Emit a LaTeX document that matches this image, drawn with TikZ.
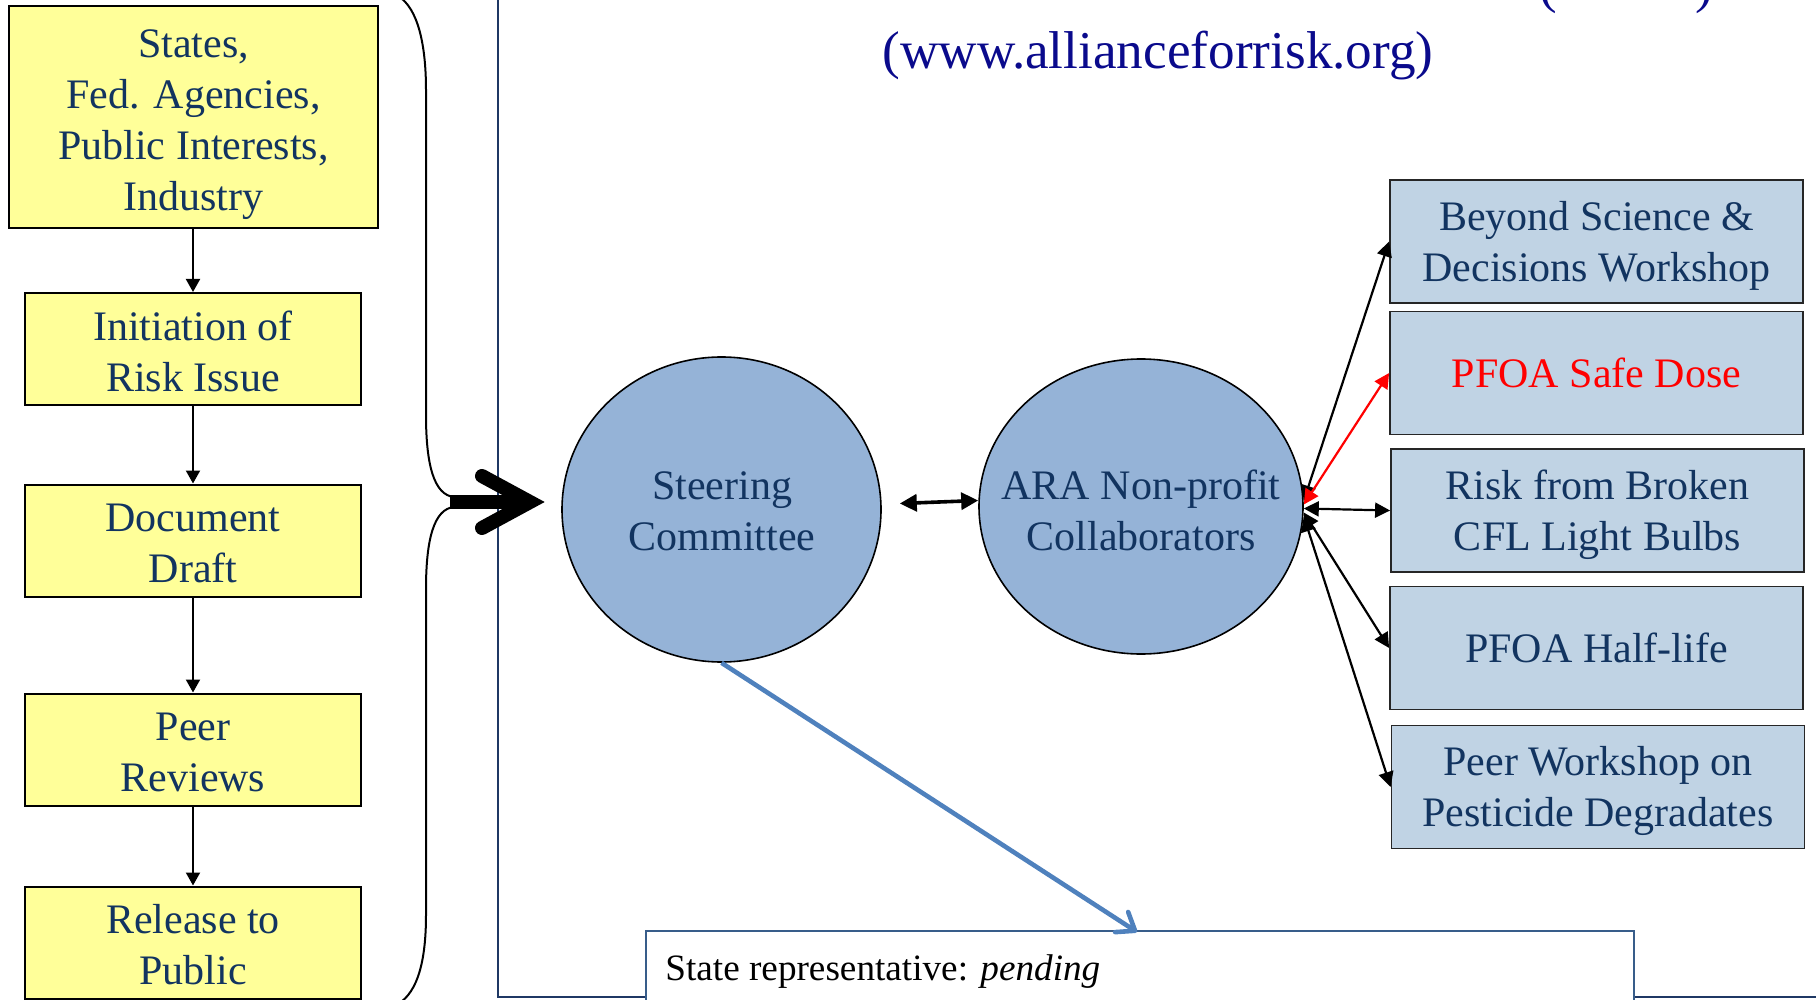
\documentclass[tikz,border=0pt]{standalone}
\usepackage{fontspec}
\setmainfont{Liberation Serif}
\usetikzlibrary{arrows.meta,shapes.geometric}
\definecolor{navytxt}{RGB}{18,52,96}
\definecolor{lyellow}{RGB}{255,255,153}
\definecolor{rblue}{RGB}{192,211,228}
\definecolor{ovalblue}{RGB}{149,179,215}
\definecolor{titleblue}{RGB}{10,10,140}
\definecolor{framec}{RGB}{31,56,100}
\definecolor{arrowblue}{RGB}{79,129,189}
\definecolor{boxedge}{RGB}{56,93,138}
\newcommand\tstr{\rule{0pt}{19pt}}
\begin{document}
\begin{tikzpicture}[x=0.5pt,y=-0.5pt,
  txt/.style={font=\fontsize{21}{25.5}\selectfont},
  lbox/.style={txt, draw=black, line width=1pt, fill=lyellow, text=navytxt, align=center,
    inner sep=0pt, minimum width=168pt, minimum height=56pt},
  rbox/.style={txt, draw=black!85, line width=0.9pt, fill=rblue, text=navytxt, align=center,
    inner sep=0pt, minimum width=206.5pt, minimum height=61.5pt},
  oval/.style={ellipse, draw=black, line width=0.8pt, fill=ovalblue, inner sep=0pt},
  ovaltext/.style={txt, text=navytxt, align=center, inner sep=0pt},
  flow/.style={draw=black, line width=1pt, -{Triangle[length=6.5pt,width=7pt]}},
  conn/.style={draw=black, line width=1.1pt, {Triangle[length=7.5pt,width=7.5pt]}-{Triangle[length=7.5pt,width=7.5pt]}},
]
\useasboundingbox (0,0) rectangle (1816,1000);

% frame
\draw[framec, line width=1pt] (498,-10) -- (498,997) -- (1830,997);

% title
\node[font=\fontsize{26.6}{30}\selectfont, text=titleblue] (url) at (1158,55.5) {(www.allianceforrisk.org)};
\node[font=\fontsize{26.4}{30}\selectfont, text=titleblue, anchor=base] (lp) at (1548,3) {(};
\node[font=\fontsize{26.4}{30}\selectfont, text=titleblue, anchor=base] (rp) at (1704,3) {)};

% left flow
\node[lbox, minimum width=184.5pt, minimum height=111pt] (l1) at (193.5,117) {\rule{0pt}{22pt}States,\\Fed. Agencies,\\Public Interests,\\Industry};
\node[lbox] (l2) at (193,349) {\rule{0pt}{17pt}Initiation of\\Risk Issue};
\node[lbox] (l3) at (193,540.5) {\rule{0pt}{17pt}Document\\Draft};
\node[lbox] (l4) at (193,749.5) {\rule{0pt}{17pt}Peer\\Reviews};
\node[lbox] (l5) at (193,942.5) {\rule{0pt}{17pt}Release to\\Public};
\draw[flow] (l1.south -| l2) -- (l2.north);
\draw[flow] (l2) -- (l3);
\draw[flow] (l3) -- (l4);
\draw[flow] (l4) -- (l5);

% brace
\coordinate (tip) at (450,502);
\draw[black, line width=1pt] (398,-4) .. controls (418,8) and (426,45) .. (426,90)
  -- (426,415) .. controls (426,465) and (434,495) .. (454,497);
\draw[black, line width=1pt] (454,507) .. controls (434,509) and (426,539) .. (426,589)
  -- (426,915) .. controls (426,960) and (418,992) .. (398,1004);

% ovals
\node[oval, minimum width=159.5pt, minimum height=152.5pt] (steer) at (721.5,509.5) {};
\node[ovaltext] (steert) at (722,511.5) {Steering\\Committee};
\node[oval, minimum width=162pt, minimum height=147.5pt] (ara) at (1141,506.5) {};
\node[ovaltext] (arat) at (1141,510) {ARA Non-profit\\Collaborators};

% big arrow from brace
\coordinate (hv) at (530,502);
\draw[black, line width=7pt] (tip) -- (hv);
\draw[black, line width=7pt, line cap=round, line join=miter] (hv) ++(-48,-26) -- (hv) -- ++(-48,26);

\draw[black, line width=1.8pt, {Triangle[length=8.5pt,width=8.5pt]}-{Triangle[length=8.5pt,width=8.5pt]}]
  ([xshift=9pt,yshift=3pt]steer.east) -- ([yshift=3pt]ara.west);

% right boxes
\node[rbox] (r1) at (1596.5,241.5) {\tstr Beyond Science \&\\Decisions Workshop};
\node[rbox, text=red] (r2) at (1596.5,373) {PFOA Safe Dose};
\node[rbox] (r3) at (1597.5,510.5) {\tstr Risk from Broken\\CFL Light Bulbs};
\node[rbox] (r4) at (1596.5,648) {PFOA Half-life};
\node[rbox] (r5) at (1598,787) {\tstr Peer Workshop on\\Pesticide Degradates};

\coordinate (ae) at ([yshift=-1pt]ara.east);
\draw[conn] ([yshift=4pt]ae) -- (r1.west);
\draw[conn, draw=red, fill=red] ([yshift=2pt]ae) -- (r2.west);
\draw[conn] (ae) -- (r3.west);
\draw[conn] ([yshift=-2pt]ae) -- (r4.west);
\draw[conn] ([yshift=-4pt]ae) -- (r5.west);

% bottom text box
\node[draw=boxedge, line width=1pt, fill=white, anchor=north west, minimum width=494pt,
  minimum height=60pt, inner sep=0pt] (sbox) at (645,930) {};
\node[font=\fontsize{18.6}{22}\selectfont, anchor=base west, inner sep=0pt] (st)
  at ([xshift=10pt,yshift=-25pt]sbox.north west) {State representative: \textit{pending}};
\coordinate (sin) at ([xshift=246pt,yshift=-1pt]sbox.north west);
\draw[arrowblue, line width=2.3pt, -{Straight Barb[length=8pt,width=12pt,round]}] (steer.south) -- (sin);
\end{tikzpicture}
\end{document}
